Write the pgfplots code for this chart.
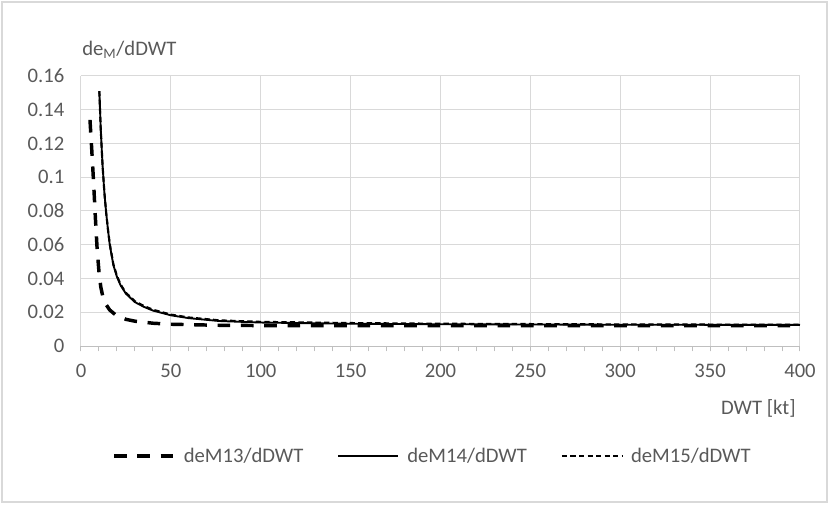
\documentclass[border=0pt]{standalone}
\usepackage{fontspec}
\setmainfont{Carlito}
\usepackage{pgfplots}
\pgfplotsset{compat=1.18}
\definecolor{txt}{HTML}{595959}
\definecolor{gridc}{HTML}{D9D9D9}
\definecolor{axc}{HTML}{BFBFBF}
\newcommand{\fs}{\fontsize{15.5}{18}\selectfont}
\begin{document}
\begin{tikzpicture}
\path[use as bounding box] (0,0) rectangle (621.75pt,378pt);
\draw[gridc, line width=0.9pt] (1.5pt,1.5pt) rectangle (620.25pt,376.5pt);
\begin{axis}[
  at={(60.75pt,118.5pt)}, anchor=south west,
  scale only axis, width=539.25pt, height=202.5pt,
  xmin=0, xmax=400, ymin=0, ymax=0.16,
  xtick={0,50,...,400}, minor xtick={0,10,...,400},
  ytick={0,0.02,...,0.16},
  axis lines*=left,
  y axis line style={draw=none},
  x axis line style={draw=axc, line width=0.75pt},
  grid=major, major grid style={gridc, line width=0.75pt},
  minor grid style={draw=none},
  tick align=outside,
  xtick style={draw=axc, line width=0.75pt},
  major tick length=4pt, minor tick length=4pt,
  ytick style={draw=none},
  ticklabel style={font=\fs, text=txt},
  /pgf/number format/assume math mode=true,
  yticklabel style={/pgf/number format/fixed, /pgf/number format/precision=2, xshift=-5pt},
  xticklabel style={yshift=-6pt},
  clip=false,
  legend columns=3,
  legend style={at={(0.0376,-0.407)}, anchor=west, draw=none, fill=none,
    font=\fs, text=txt, nodes={inner sep=0pt},
    /tikz/every odd column/.append style={column sep=6pt},
    /tikz/every even column/.append style={column sep=25.5pt}},
  legend cell align=left,
  legend image code/.code={\draw[#1] (0pt,0pt) -- (45pt,0pt);},
]
\addplot[black, line width=2.6pt, dash pattern=on 9.5pt off 8pt] coordinates {
(5,0.134) (6,0.116) (7,0.097) (8,0.076) (9,0.057) (10,0.044) (11,0.035) (12,0.030)
(14,0.0245) (16,0.0213) (20,0.0178) (25,0.0158) (30,0.0147) (40,0.0135) (50,0.0129)
(75,0.0123) (100,0.0121) (150,0.0120) (200,0.0120) (300,0.0120) (400,0.0120)};
\addlegendentry{deM13/dDWT}
\addplot[black, line width=1.4pt] coordinates {
(10.2,0.151) (11,0.128) (12,0.107) (13,0.091) (14,0.079) (15,0.069) (16,0.060)
(18,0.048) (20,0.041) (22,0.036) (25,0.031) (30,0.026) (35,0.0232) (40,0.0210)
(50,0.0182) (60,0.0165) (77,0.0148) (100,0.0139) (150,0.0132) (200,0.0129)
(300,0.0126) (400,0.0125)};
\addlegendentry{deM14/dDWT}
\addplot[black, line width=1.6pt, dash pattern=on 4pt off 2.4pt] coordinates {
(10.2,0.151) (11,0.128) (12,0.107) (13,0.091) (14,0.079) (15,0.069) (16,0.0605)
(18,0.0485) (20,0.0415) (22,0.0365) (25,0.0315) (30,0.0265) (35,0.0237) (40,0.0215)
(50,0.0186) (60,0.0169) (77,0.0152) (100,0.0143) (150,0.0136) (200,0.0132)
(300,0.0128) (400,0.0126)};
\addlegendentry{deM15/dDWT}
\node[anchor=west, text=txt, font=\fs, inner sep=0pt] at (rel axis cs:0.0014,1.097) {de\textsubscript{M}/dDWT};
\node[anchor=east, text=txt, font=\fs, inner sep=0pt] at (rel axis cs:0.9944,-0.2296) {DWT [kt]};
\end{axis}
\end{tikzpicture}
\end{document}
